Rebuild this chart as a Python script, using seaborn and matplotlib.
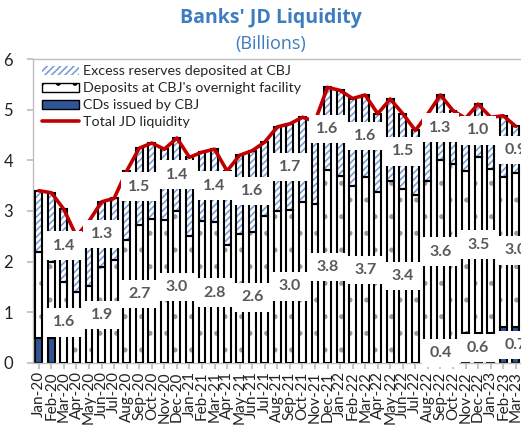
import numpy as np
import pandas as pd
import matplotlib
matplotlib.use("Agg")
import matplotlib.pyplot as plt
import seaborn as sns
from matplotlib.patches import Patch
from matplotlib.lines import Line2D

months = ["Jan-20", "Feb-20", "Mar-20", "Apr-20", "May-20", "Jun-20", "Jul-20", "Aug-20",
          "Sep-20", "Oct-20", "Nov-20", "Dec-20", "Jan-21", "Feb-21", "Mar-21", "Apr-21",
          "May-21", "Jun-21", "Jul-21", "Aug-21", "Sep-21", "Oct-21", "Nov-21", "Dec-21",
          "Jan-22", "Feb-22", "Mar-22", "Apr-22", "May-22", "Jun-22", "Jul-22", "Aug-22",
          "Sep-22", "Oct-22", "Nov-22", "Dec-22", "Jan-23", "Feb-23", "Mar-23"]

cds = [0.5, 0.5, 0, 0, 0, 0, 0, 0,
       0, 0, 0, 0, 0, 0, 0, 0,
       0, 0, 0, 0, 0, 0, 0, 0,
       0, 0, 0, 0, 0, 0, 0, 0,
       0.4, 0.45, 0.6, 0.6, 0.6, 0.7, 0.7]

deposits = [1.7, 1.5, 1.6, 1.4, 1.52, 1.9, 2.04, 2.42,
            2.72, 2.85, 2.82, 3.0, 2.5, 2.8, 2.78, 2.32,
            2.54, 2.59, 2.9, 3.0, 3.02, 3.18, 3.13, 3.8,
            3.69, 3.49, 3.67, 3.38, 3.6, 3.43, 3.32, 3.59,
            3.6, 3.48, 3.18, 3.47, 3.23, 2.98, 3.04]

excess = [1.2, 1.36, 1.43, 1.1, 1.28, 1.28, 1.21, 1.37,
          1.52, 1.49, 1.40, 1.44, 1.56, 1.36, 1.44, 1.47,
          1.56, 1.6, 1.46, 1.66, 1.7, 1.67, 1.64, 1.64,
          1.69, 1.73, 1.62, 1.54, 1.61, 1.49, 1.27, 1.33,
          1.29, 1.05, 1.05, 1.04, 1.02, 1.2, 0.93]

y_ticks = [0, 1, 2, 3, 4, 5, 6]

df = pd.DataFrame({"month": months, "cds": cds, "deposits": deposits, "excess": excess})
df["dep_base"] = df["cds"]
df["exc_base"] = df["cds"] + df["deposits"]
df["total"] = df["cds"] + df["deposits"] + df["excess"]
df["pos"] = np.arange(len(df))

sns.set_theme(style="white")
plt.rcParams['font.family'] = ['Lato', 'DejaVu Sans']
plt.rcParams['hatch.linewidth'] = 1.2

C_CDS = "#2F5597"
C_HATCH = "#7C9FD8"
C_DOT = "#9A9A9A"
C_LINE = "#C00000"
C_TITLE = "#3F7CBF"
C_LBL = "#595959"

fig = plt.figure(figsize=(5.21, 4.26), dpi=100)
ax = fig.add_axes([0.0625, 0.148, 0.9395, 0.7135])

W = 0.55
common = dict(data=df, x="month", errorbar=None, width=W, saturation=1, ax=ax)

# CDs
sns.barplot(y="cds", color=C_CDS, edgecolor="black", linewidth=1.5, zorder=2, **common)
# Deposits: dotted layer then outline
sns.barplot(y="deposits", bottom=df["dep_base"].values, color="white", edgecolor=C_DOT,
            hatch=".", linewidth=0, zorder=2, **common)
sns.barplot(y="deposits", bottom=df["dep_base"].values, color="white", facecolor="none",
            edgecolor="black", linewidth=1.5, zorder=3, **common)
# Excess reserves: hatch layer then outline
sns.barplot(y="excess", bottom=df["exc_base"].values, color="white", edgecolor=C_HATCH,
            hatch="/////", linewidth=0, zorder=2, **common)
sns.barplot(y="excess", bottom=df["exc_base"].values, color="white", facecolor="none",
            edgecolor="black", linewidth=1.5, zorder=3, **common)

# Total line
sns.lineplot(data=df, x="pos", y="total", color=C_LINE, linewidth=2.6, ax=ax, zorder=4)

# Data labels every quarter-end month
lbl_kw = dict(ha="center", va="center", fontsize=11.5, fontweight="bold", color=C_LBL, zorder=6,
              bbox=dict(boxstyle="square,pad=0.45", fc="white", ec="none"))
for i in range(2, len(df), 3):
    r = df.iloc[i]
    if r["cds"] > 0:
        ax.text(i, r["cds"] / 2, f"{r['cds']:.1f}", **lbl_kw)
    ax.text(i, r["dep_base"] + r["deposits"] / 2, f"{r['deposits']:.1f}", **lbl_kw)
    ax.text(i, r["exc_base"] + r["excess"] / 2, f"{r['excess']:.1f}", **lbl_kw)

ax.set_xlim(-0.5, len(df) - 0.5)
ax.set_ylim(0, 6)
ax.set_yticks(y_ticks)
ax.set_yticklabels([str(t) for t in y_ticks], fontsize=12, color="#222222")
ax.set_xticks(range(len(df)))
ax.set_xticklabels(months, rotation=90, fontsize=11, color="#222222")
ax.set_xlabel("")
ax.set_ylabel("")
ax.tick_params(axis="y", which="major", left=True, length=4, color="#BFBFBF", pad=10)
ax.tick_params(axis="x", which="major", bottom=True, length=4, color="#BFBFBF", pad=2)
for s in ["left", "bottom", "top"]:
    ax.spines[s].set_color("#BFBFBF")
    ax.spines[s].set_linewidth(1)
ax.spines["right"].set_visible(False)

handles = [
    Patch(facecolor="white", edgecolor=C_HATCH, hatch="/////", linewidth=0),
    Patch(facecolor="white", edgecolor="black", hatch=".", linewidth=1.0),
    Patch(facecolor=C_CDS, edgecolor="black", linewidth=1.0),
    Line2D([0], [0], color=C_LINE, linewidth=2.6),
]
labels = ["Excess reserves deposited at CBJ", "Deposits at CBJ's overnight facility",
          "CDs issued by CBJ", "Total JD liquidity"]
leg = ax.legend(handles, labels, loc="upper left", bbox_to_anchor=(0.0, 1.01), frameon=False,
                fontsize=10.3, handlelength=2.6, handleheight=0.6, labelspacing=0.35,
                handletextpad=0.3, borderaxespad=0.25)
leg.set_zorder(7)

fig.text(0.52, 0.958, "Banks' JD Liquidity", ha="center", va="center", fontsize=14,
         fontweight="bold", color=C_TITLE, family=["Open Sans", "DejaVu Sans"])
fig.text(0.52, 0.897, "(Billions)", ha="center", va="center", fontsize=13,
         color=C_TITLE, family=["Open Sans", "DejaVu Sans"])

fig.savefig("out.png", dpi=100)
